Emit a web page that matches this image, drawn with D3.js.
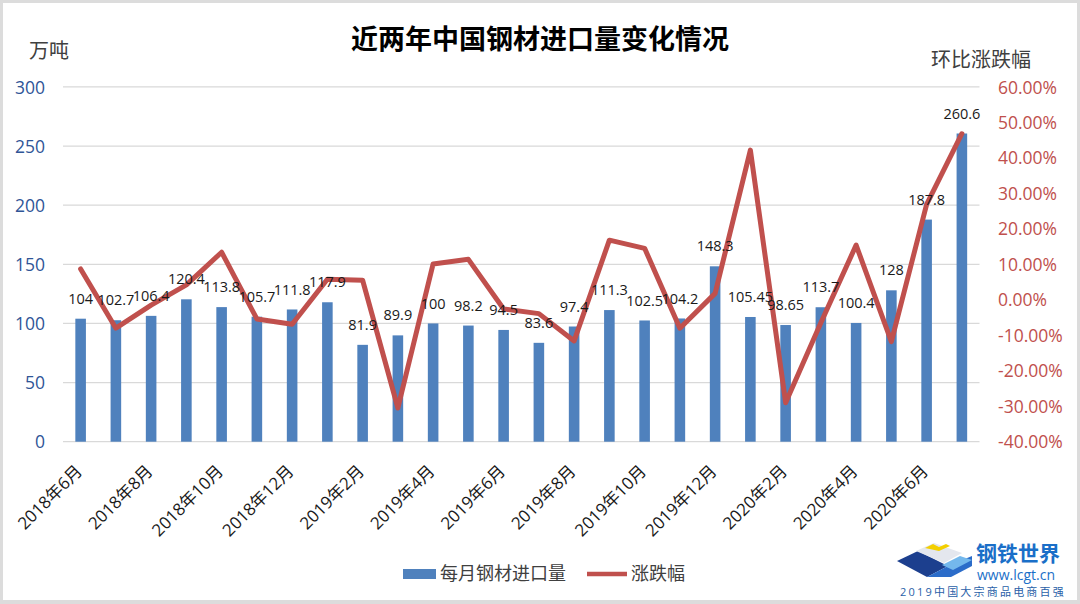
<!DOCTYPE html>
<html><head><meta charset="utf-8">
<script src="https://cdn.jsdelivr.net/npm/d3@7/dist/d3.min.js"></script>
<style>
html,body{margin:0;padding:0;background:#fff;}
svg{display:block;}
text{font-family:"Open Sans","Noto Sans CJK SC",sans-serif;}
</style></head>
<body>
<svg id="chart" width="1080" height="604"></svg>
<script>
// ---- data ----
const months = ["2018年6月","2018年7月","2018年8月","2018年9月","2018年10月","2018年11月","2018年12月",
  "2019年1月","2019年2月","2019年3月","2019年4月","2019年5月","2019年6月","2019年7月","2019年8月",
  "2019年9月","2019年10月","2019年11月","2019年12月","2020年1月","2020年2月","2020年3月","2020年4月",
  "2020年5月","2020年6月","2020年7月"];
const tickLabels = ["2018年6月","2018年8月","2018年10月","2018年12月","2019年2月","2019年4月","2019年6月",
  "2019年8月","2019年10月","2019年12月","2020年2月","2020年4月","2020年6月"];
const imports = [104,102.7,106.4,120.4,113.8,105.7,111.8,117.9,81.9,89.9,100,98.2,94.5,83.6,97.4,
  111.3,102.5,104.2,148.3,105.45,98.65,113.7,100.4,128,187.8,260.6];
const change = [8.7,-8.0,-1.5,4.2,13.4,-5.4,-6.9,5.8,5.5,-30.5,10.1,11.4,-2.6,-3.9,-11.6,
  16.8,14.5,-8.0,1.8,42.2,-29.0,-6.5,15.4,-11.8,26.9,46.8];
const leftTicks = [0,50,100,150,200,250,300];
const rightTicks = [-0.4,-0.3,-0.2,-0.1,0,0.1,0.2,0.3,0.4,0.5,0.6];
const seriesNames = ["每月钢材进口量","涨跌幅"];

const svg = d3.select("#chart");
const W = 1080, H = 604;
const barColor = "#4f81bd", lineColor = "#c0504d";

// frame
svg.append("rect").attr("x",0).attr("y",0).attr("width",W).attr("height",H).attr("fill","#dcdcdc");
svg.append("rect").attr("x",3).attr("y",3).attr("width",W-6).attr("height",H-7).attr("fill","#fff");

const x = d3.scaleBand().domain(months).range([63,979.5]).paddingInner(0.7).paddingOuter(0.35);
const yL = d3.scaleLinear().domain([0,300]).range([441.7,86.9]);
const yR = d3.scaleLinear().domain([-0.4,0.6]).range([441.7,86.9]);

// gridlines
svg.append("g").selectAll("line").data(leftTicks).join("line")
  .attr("x1",63).attr("x2",979.5)
  .attr("y1",d=>yL(d)).attr("y2",d=>yL(d))
  .attr("stroke","#d9d9d9").attr("stroke-width",1.3);

// left axis
const axL = d3.axisLeft(yL).tickValues(leftTicks).tickSize(0).tickPadding(0);
const gL = svg.append("g").attr("transform","translate(45,0)").call(axL);
gL.select(".domain").remove();
gL.selectAll("text").attr("fill","#2f5597").attr("font-size","17.5px").attr("dy","0.35em");

// right axis
const axR = d3.axisRight(yR).tickValues(rightTicks).tickSize(0).tickPadding(0)
  .tickFormat(d=>(d*100).toFixed(2)+"%");
const gR = svg.append("g").attr("transform","translate(998,0)").call(axR);
gR.select(".domain").remove();
gR.selectAll("text").attr("fill","#c0504d").attr("font-size","17.5px").attr("dy","0.35em");

// bars
svg.append("g").selectAll("rect").data(imports).join("rect")
  .attr("x",(d,i)=>x(months[i]))
  .attr("width",x.bandwidth())
  .attr("y",d=>yL(d))
  .attr("height",d=>yL(0)-yL(d))
  .attr("fill",barColor);

// line
const line = d3.line().x((d,i)=>x(months[i])+x.bandwidth()/2).y(d=>yR(d/100));
svg.append("path").datum(change).attr("d",line)
  .attr("fill","none").attr("stroke",lineColor).attr("stroke-width",5)
  .attr("stroke-linejoin","round").attr("stroke-linecap","round");

// bar labels
svg.append("g").selectAll("text").data(imports).join("text")
  .attr("x",(d,i)=>x(months[i])+x.bandwidth()/2)
  .attr("y",d=>yL(d)-20)
  .attr("dy","0.35em")
  .attr("text-anchor","middle")
  .attr("font-size","14.5px").attr("fill","#1a1a1a")
  .text(d=>d);

// x axis labels
const xa = d3.axisBottom(x).tickValues(tickLabels).tickSize(0).tickPadding(0);
const gX = svg.append("g").call(xa);
gX.select(".domain").remove();
gX.selectAll(".tick").attr("transform",d=>`translate(${x(d)+x.bandwidth()/2},0)`);
gX.selectAll("text")
  .attr("transform","translate(-1.5,468) rotate(-45)")
  .attr("text-anchor","end").attr("x",0).attr("y",0).attr("dy","0.35em")
  .attr("font-size","17px").attr("fill","#1a1a1a");

// title
svg.append("text").attr("x",540).attr("y",49).attr("text-anchor","middle")
  .attr("font-family","Noto Sans CJK SC").attr("font-weight","bold")
  .attr("font-size","27px").attr("fill","#000").text("近两年中国钢材进口量变化情况");

// axis titles
svg.append("text").attr("x",29).attr("y",58).attr("font-family","Noto Sans CJK SC")
  .attr("font-size","20px").attr("fill","#404040").text("万吨");
svg.append("text").attr("x",931).attr("y",67).attr("font-family","Noto Sans CJK SC")
  .attr("font-size","20px").attr("fill","#404040").text("环比涨跌幅");

// legend
const lg = svg.append("g");
lg.append("rect").attr("x",403).attr("y",569).attr("width",33).attr("height",10).attr("fill",barColor);
lg.append("text").attr("x",440).attr("y",574).attr("dy","0.35em").attr("font-family","Noto Sans CJK SC")
  .attr("font-size","18px").attr("fill","#404040").text(seriesNames[0]);
lg.append("line").attr("x1",587).attr("x2",627).attr("y1",574).attr("y2",574)
  .attr("stroke",lineColor).attr("stroke-width",4.5);
lg.append("text").attr("x",631).attr("y",574).attr("dy","0.35em").attr("font-family","Noto Sans CJK SC")
  .attr("font-size","18px").attr("fill","#404040").text(seriesNames[1]);

// logo
const logo = svg.append("g");
logo.append("polygon").attr("points","897,561 918,551 948,566 927,577").attr("fill","#1c3f8e");
logo.append("polygon").attr("points","927,577 948,566 972,556 972,566 951,577").attr("fill","#2b6cc9");
logo.append("polygon").attr("points","942,565 960,556 972,560 953,570").attr("fill","#74b8ec");
logo.append("polygon").attr("points","916,551 934,543 962,553 944,563").attr("fill","#e4e7ee");
logo.append("polygon").attr("points","925,548 933,544 939,547 946,544 950,546 939,551").attr("fill","#f3cf00");
logo.append("text").attr("x",976).attr("y",561).attr("font-family","Noto Sans CJK SC").attr("font-weight","bold")
  .attr("font-size","21px").attr("fill","#1a6fc8").text("钢铁世界");
logo.append("text").attr("x",977).attr("y",580).attr("font-family","Liberation Sans")
  .attr("font-size","14px").attr("fill","#1a6fc8").text("www.lcgt.cn");
logo.append("text").attr("x",900).attr("y",596).attr("font-family","Noto Sans CJK SC")
  .attr("font-size","11px").attr("letter-spacing","2.2px").attr("fill","#2a5fa8").text("2019中国大宗商品电商百强");
</script>
</body></html>
